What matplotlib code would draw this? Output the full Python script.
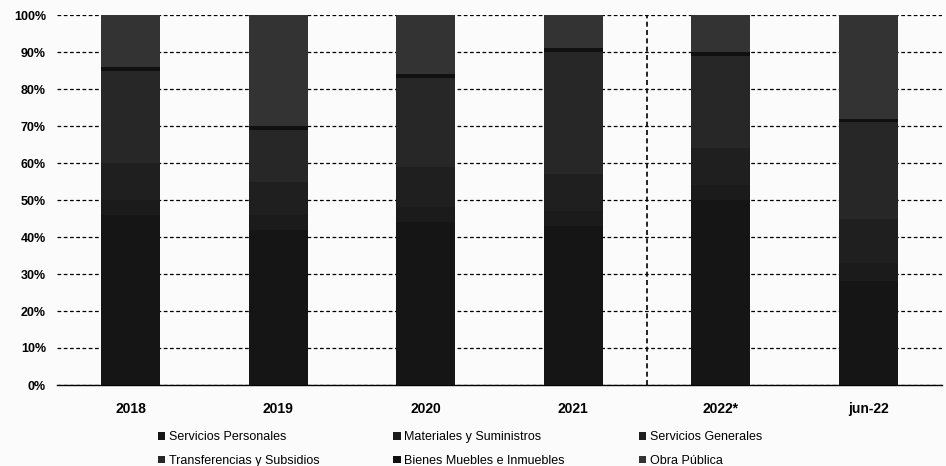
import matplotlib
matplotlib.use("Agg")
import matplotlib.pyplot as plt
import numpy as np

categories = ["2018", "2019", "2020", "2021", "2022*", "jun-22"]
series_names = ["Servicios Personales", "Materiales y Suministros", "Servicios Generales",
                "Transferencias y Subsidios", "Bienes Muebles e Inmuebles", "Obra Pública"]
servicios_personales = [46, 42, 44, 43, 50, 28]
materiales = [4, 4, 4, 4, 4, 5]
servicios_generales = [10, 9, 11, 10, 10, 12]
transferencias = [25, 14, 24, 33, 25, 26]
bienes_muebles = [1, 1, 1, 1, 1, 1]
obra_publica = [14, 30, 16, 9, 10, 28]
y_ticks = [0, 10, 20, 30, 40, 50, 60, 70, 80, 90, 100]

series = [servicios_personales, materiales, servicios_generales,
          transferencias, bienes_muebles, obra_publica]
colors = ["#151515", "#1b1b1b", "#1f1f1f", "#272727", "#101010", "#333333"]

plt.rcParams['font.family'] = ['Liberation Sans Narrow', 'Liberation Sans', 'DejaVu Sans']

fig = plt.figure(figsize=(9.46, 4.66), dpi=100)
fig.patch.set_facecolor('#fbfbfb')
ax = fig.add_axes([57/946, 1-385/466, 885/946, 370/466])
ax.set_facecolor('#fbfbfb')

x = np.arange(len(categories))
bottom = np.zeros(len(categories))
handles = []
for name, vals, c in zip(series_names, series, colors):
    b = ax.bar(x, vals, width=0.4, bottom=bottom, color=c, label=name, zorder=3)
    handles.append(b)
    bottom += np.array(vals)

ax.set_xlim(-0.5, len(categories) - 0.5)
ax.set_ylim(0, 100)
ax.set_yticks(y_ticks)
ax.set_yticklabels([f"{v}%" for v in y_ticks], fontsize=9, fontweight='bold',
                   family=['Liberation Sans', 'DejaVu Sans'])
ax.set_xticks(x)
ax.set_xticklabels(categories, fontsize=10, fontweight='bold',
                   family=['Liberation Sans Narrow', 'Liberation Sans', 'DejaVu Sans'])
ax.tick_params(axis='y', length=0, pad=8)
ax.tick_params(axis='x', length=0, pad=12)
ax.yaxis.grid(True, linestyle=(0, (3, 2)), color='black', linewidth=0.9, zorder=0)
for s in ['top', 'right', 'left']:
    ax.spines[s].set_visible(False)
ax.spines['bottom'].set_color('black')
ax.spines['bottom'].set_linewidth(1.0)
ax.axvline(3.5, color='black', linestyle=(0, (3, 2)), linewidth=1.2, zorder=1)

order = [0, 3, 1, 4, 2, 5]
fig.legend([handles[i] for i in order], [series_names[i] for i in order],
           loc='lower left', bbox_to_anchor=(150/946, -0.018), ncol=3, frameon=False,
           fontsize=9, handlelength=0.6, handleheight=0.6, handletextpad=0.3,
           columnspacing=5.9, labelspacing=0.95, borderaxespad=0.2)

fig.savefig("out.png", dpi=100, facecolor=fig.get_facecolor())
